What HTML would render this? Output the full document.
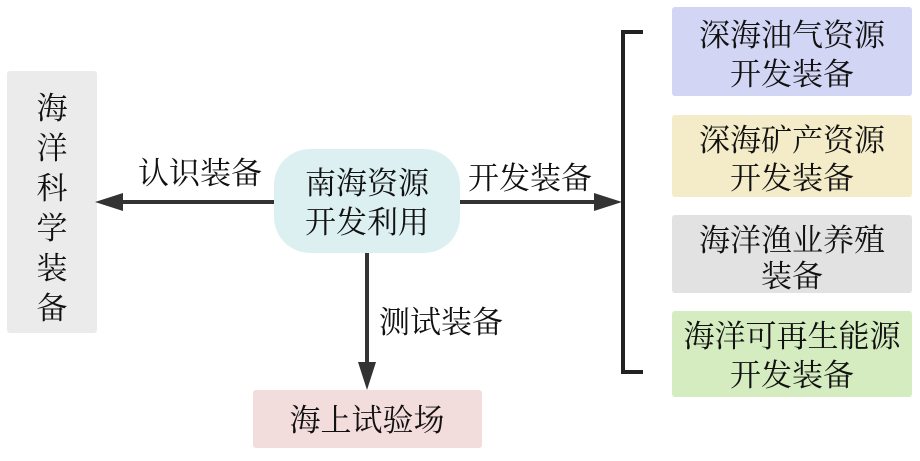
<!DOCTYPE html>
<html><head><meta charset="utf-8"><style>
html,body{margin:0;padding:0;background:#fff;}
svg text{font-family:"Noto Serif CJK SC","Liberation Serif",serif;fill:#111;font-size:31px;text-anchor:middle;}
</style></head><body>
<svg width="920" height="456" viewBox="0 0 920 456" xmlns="http://www.w3.org/2000/svg">
<rect x="7" y="71" width="90" height="262" rx="3" fill="#ebebeb"/>
<text x="52" y="119">海</text>
<text x="52" y="159">洋</text>
<text x="52" y="199">科</text>
<text x="52" y="239">学</text>
<text x="52" y="279">装</text>
<text x="52" y="319">备</text>

<rect x="274" y="149" width="186" height="104" rx="36" fill="#dcf0f2"/>
<text x="367" y="194">南海资源</text>
<text x="367" y="233">开发利用</text>

<line x1="274" y1="202" x2="120" y2="202" stroke="#333" stroke-width="4"/>
<polygon points="95,202 123,193 123,211" fill="#333"/>
<text x="200" y="184">认识装备</text>

<line x1="460" y1="202" x2="598" y2="202" stroke="#333" stroke-width="4"/>
<polygon points="622,202 594,193 594,211" fill="#333"/>
<text x="530" y="189">开发装备</text>

<line x1="367" y1="253" x2="367" y2="365" stroke="#333" stroke-width="4"/>
<polygon points="367,390 358,362 376,362" fill="#333"/>
<text x="441" y="333">测试装备</text>

<rect x="253" y="390" width="229" height="58" rx="3" fill="#f3dcdc"/>
<text x="367" y="431">海上试验场</text>

<path d="M643,32 H623 V372 H643" fill="none" stroke="#222" stroke-width="4"/>

<rect x="672" y="7" width="240" height="89" rx="3" fill="#d2d6f4"/>
<text x="792" y="46">深海油气资源</text>
<text x="792" y="85">开发装备</text>
<rect x="672" y="115" width="240" height="82" rx="3" fill="#f4ecc8"/>
<text x="792" y="151">深海矿产资源</text>
<text x="792" y="189">开发装备</text>
<rect x="672" y="215" width="240" height="78" rx="3" fill="#e2e2e2"/>
<text x="792" y="251">海洋渔业养殖</text>
<text x="792" y="287">装备</text>
<rect x="672" y="311" width="240" height="86" rx="3" fill="#d4ecc0"/>
<text x="792" y="347">海洋可再生能源</text>
<text x="792" y="386">开发装备</text>
</svg>
</body></html>
